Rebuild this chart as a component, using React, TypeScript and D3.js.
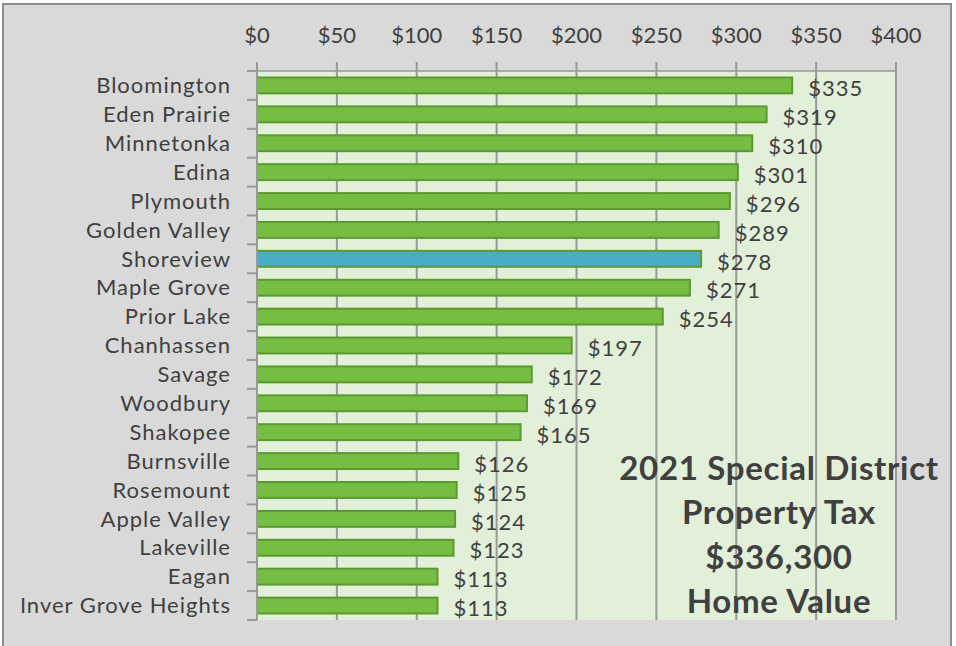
import React from "react";
import * as d3 from "d3";

const categories = [
  "Bloomington", "Eden Prairie", "Minnetonka", "Edina", "Plymouth", "Golden Valley",
  "Shoreview", "Maple Grove", "Prior Lake", "Chanhassen", "Savage", "Woodbury",
  "Shakopee", "Burnsville", "Rosemount", "Apple Valley", "Lakeville", "Eagan",
  "Inver Grove Heights",
];
const values = [335, 319, 310, 301, 296, 289, 278, 271, 254, 197, 172, 169, 165, 126, 125, 124, 123, 113, 113];
const highlight = "Shoreview";
const xTicks = [0, 50, 100, 150, 200, 250, 300, 350, 400];
const titleLines = ["2021 Special District", "Property Tax", "$336,300", "Home Value"];

const W = 956, H = 646;
const plot = { left: 257, right: 896, top: 71, bottom: 620 };
const FONT = "Lato, 'Open Sans', sans-serif";
const TEXT = "#404040";

export default function App() {
  const x = d3.scaleLinear().domain([0, 400]).range([plot.left, plot.right]);
  const y = d3.scaleBand<string>().domain(categories).range([plot.top, plot.bottom]).paddingInner(0.45).paddingOuter(0.225);
  const band = d3.scaleBand<string>().domain(categories).range([plot.top, plot.bottom]);
  const boundaries = d3.range(categories.length + 1).map((i) => plot.top + i * band.step());

  return (
    <svg width={W} height={H} style={{ position: "absolute", left: 0, top: 0, display: "block" }}>
      <rect x={0} y={0} width={W} height={H} fill="#ffffff" />
      <rect x={3} y={4} width={948} height={H} fill="#d9d9d9" stroke="#8c8c8c" strokeWidth={2} />
      <rect x={plot.left} y={plot.top} width={plot.right - plot.left} height={plot.bottom - plot.top} fill="#e2efd9" />
      {xTicks.map((t) => (
        <line key={"g" + t} x1={x(t)} x2={x(t)} y1={plot.top - 9} y2={plot.bottom} stroke="#999999" strokeWidth={2} />
      ))}
      <line x1={plot.left} x2={plot.right} y1={plot.top} y2={plot.top} stroke="#999999" strokeWidth={1.5} />
      {xTicks.map((t) => (
        <text key={"t" + t} x={x(t)} y={43} textAnchor="middle" fontFamily={FONT} fontSize={22} fill={TEXT}>
          ${t}
        </text>
      ))}
      {boundaries.map((b, i) => (
        <line key={"b" + i} x1={plot.left - 10} x2={plot.left} y1={b} y2={b} stroke="#999999" strokeWidth={2} />
      ))}
      {categories.map((c, i) => (
        <g key={c}>
          <rect
            x={x(0)}
            y={y(c)!}
            width={x(values[i]) - x(0)}
            height={y.bandwidth()}
            fill={c === highlight ? "#4bacc6" : "#76bd43"}
            stroke="#5b9a30"
            strokeWidth={2}
          />
          <text x={231} y={y(c)! + y.bandwidth() / 2} dy="0.35em" textAnchor="end" fontFamily={FONT} fontSize={22} fill={TEXT} letterSpacing={1}>
            {c}
          </text>
          <text x={x(values[i]) + 16} y={y(c)! + y.bandwidth() / 2 + 3} dy="0.35em" textAnchor="start" fontFamily={FONT} fontSize={22} fill={TEXT} letterSpacing={1}>
            ${values[i]}
          </text>
        </g>
      ))}
      <line x1={plot.left} x2={plot.left} y1={plot.top} y2={plot.bottom} stroke="#999999" strokeWidth={2} />
      {titleLines.map((l, i) => (
        <text key={l} x={779} y={480 + i * 44.3} textAnchor="middle" fontFamily={FONT} fontWeight="bold" fontSize={33} fill={TEXT} letterSpacing={0.7}>
          {l}
        </text>
      ))}
    </svg>
  );
}
